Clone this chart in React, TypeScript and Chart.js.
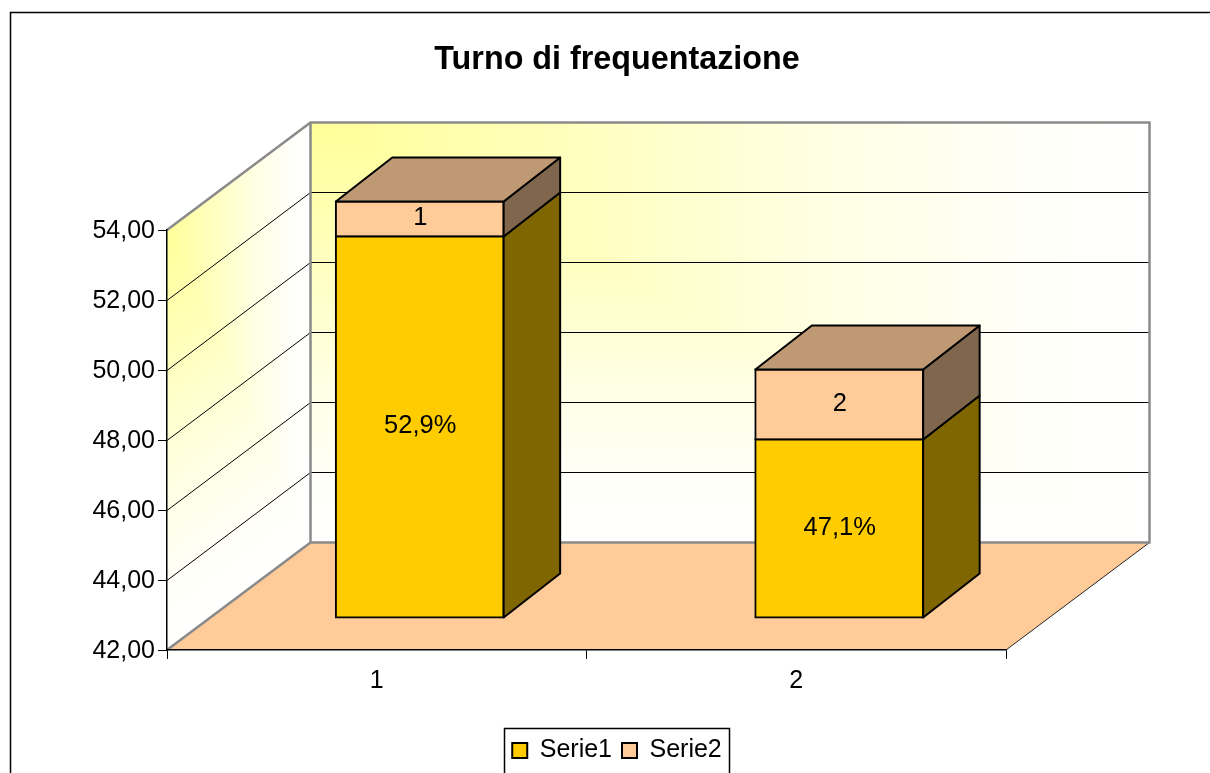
import React, { useEffect, useRef } from "react";
import { Chart, registerables } from "chart.js";

Chart.register(...registerables);

const categories = ["1", "2"];
const serie1 = [52.9, 47.1];
const serie2 = [1, 2];
const serie1Labels = ["52,9%", "47,1%"];
const serie2Labels = ["1", "2"];
const title = "Turno di frequentazione";

const FONT = "'Liberation Sans', Arial, sans-serif";
const YELLOW = "#FFCC00";
const PEACH = "#FFCC99";
const YELLOW_SIDE = "#806600";
const PEACH_SIDE = "#80664D";
const PEACH_TOP = "#BF9973";
const GRAY = "#8A8A8A";
const WALL_STOPS: [number, string][] = [
  [0, "#FFFF99"],
  [0.3, "#FFFFBC"],
  [0.6, "#FFFFE2"],
  [0.85, "#FFFFF8"],
  [1, "#FFFFFF"],
];

const WALL_DX = 143.5;
const WALL_DY = -107.5;
const BAR_DX = 43;
const BAR_DY = -32;
const DEPTH_DX = 56.5;
const DEPTH_DY = -44;

function poly(ctx: CanvasRenderingContext2D, pts: number[][], fill?: any, stroke?: string, lw = 1) {
  ctx.beginPath();
  pts.forEach((p, i) => (i ? ctx.lineTo(p[0], p[1]) : ctx.moveTo(p[0], p[1])));
  ctx.closePath();
  if (fill) {
    ctx.fillStyle = fill;
    ctx.fill();
  }
  if (stroke) {
    ctx.strokeStyle = stroke;
    ctx.lineWidth = lw;
    ctx.lineJoin = "round";
    ctx.stroke();
  }
}

function wallGradient(ctx: CanvasRenderingContext2D, x0: number, y0: number, x1: number, y1: number) {
  const g = ctx.createLinearGradient(x0, y0, x1, y1);
  WALL_STOPS.forEach(([t, c]) => g.addColorStop(t, c));
  return g;
}

function line(ctx: CanvasRenderingContext2D, x1: number, y1: number, x2: number, y2: number, color: string, lw: number) {
  ctx.beginPath();
  ctx.moveTo(x1, y1);
  ctx.lineTo(x2, y2);
  ctx.strokeStyle = color;
  ctx.lineWidth = lw;
  ctx.stroke();
}

const scene3d = {
  id: "scene3d",
  beforeDraw(chart: any) {
    const { ctx, chartArea: a, scales } = chart;
    const { left: L, right: R, top: T, bottom: B } = a;
    const bx = L + WALL_DX;
    const rx = R + WALL_DX;
    const bt = T + WALL_DY;
    const bb = B + WALL_DY;
    ctx.save();
    // outer frame (runs off the right and bottom of the page)
    ctx.strokeStyle = "#000";
    ctx.lineWidth = 1.5;
    ctx.beginPath();
    ctx.moveTo(10.5, chart.height + 2);
    ctx.lineTo(10.5, 12.5);
    ctx.lineTo(chart.width + 2, 12.5);
    ctx.stroke();

    // side wall: corner-path fade from the top-left corner
    const len = Math.hypot(WALL_DX, WALL_DY);
    const nx = -WALL_DY / len;
    const ny = WALL_DX / len;
    const dist = (B - T) * ny;
    poly(ctx, [[L, T], [bx, bt], [bx, bb], [L, B]], wallGradient(ctx, L, T, L + nx * dist, T + ny * dist));
    poly(ctx, [[L, T], [bx, bt], [bx, bb]], wallGradient(ctx, L, 0, bx, 0));

    // back wall: the same fade
    poly(ctx, [[bx, bt], [rx, bt], [rx, bb], [bx, bb]], wallGradient(ctx, 0, bt, 0, bb));
    poly(ctx, [[bx, bt], [rx, bt], [rx, bb]], wallGradient(ctx, bx, 0, rx, 0));

    // floor
    poly(ctx, [[L, B], [bx, bb], [rx, bb], [R, B]], PEACH);

    // grid lines
    const y = scales.y;
    y.ticks.slice(1, -1).forEach((t: any) => {
      const p = y.getPixelForValue(t.value);
      const back = Math.floor(p + WALL_DY) + 0.5;
      ctx.beginPath();
      ctx.moveTo(L, Math.round(p) + 0.5);
      ctx.lineTo(bx, back);
      ctx.lineTo(rx, back);
      ctx.strokeStyle = "#000";
      ctx.lineWidth = 1;
      ctx.stroke();
    });

    // wall edges
    line(ctx, R, B, rx, bb, "#222", 1);
    ctx.beginPath();
    ctx.moveTo(L, T);
    ctx.lineTo(bx, bt);
    ctx.lineTo(rx, bt);
    ctx.lineTo(rx, bb);
    ctx.lineTo(bx, bb);
    ctx.lineTo(L, B);
    ctx.moveTo(bx, bt);
    ctx.lineTo(bx, bb);
    ctx.strokeStyle = GRAY;
    ctx.lineWidth = 2.5;
    ctx.lineJoin = "miter";
    ctx.stroke();

    // legend frame
    const hb = chart.legend.legendHitBoxes;
    if (hb && hb.length) {
      const last = hb[hb.length - 1];
      const x0 = Math.round(hb[0].left - 8.5) + 0.5;
      const x1 = Math.round(last.left + last.width + 7) + 0.5;
      ctx.strokeStyle = "#000";
      ctx.lineWidth = 1.5;
      ctx.strokeRect(x0, chart.legend.top + 0.5, x1 - x0, 80);
    }
    ctx.restore();
  },
  beforeDatasetsDraw(chart: any) {
    chart.ctx.save();
    chart.ctx.translate(BAR_DX, BAR_DY);
  },
  afterDatasetsDraw(chart: any) {
    const ctx = chart.ctx;
    const sideColors = [YELLOW_SIDE, PEACH_SIDE];
    const labels = [serie1Labels, serie2Labels];
    const lastIdx = chart.data.datasets.length - 1;
    chart.data.datasets.forEach((_: any, i: number) => {
      chart.getDatasetMeta(i).data.forEach((el: any, j: number) => {
        const { x, y, base, width } = el.getProps(["x", "y", "base", "width"], true);
        const l = x - width / 2;
        const r = x + width / 2;
        poly(ctx, [[r, y], [r + DEPTH_DX, y + DEPTH_DY], [r + DEPTH_DX, base + DEPTH_DY], [r, base]], sideColors[i], "#000", 2);
        if (i === lastIdx) {
          poly(ctx, [[l, y], [l + DEPTH_DX, y + DEPTH_DY], [r + DEPTH_DX, y + DEPTH_DY], [r, y]], PEACH_TOP, "#000", 2);
        }
        ctx.fillStyle = "#000";
        ctx.font = `25.5px ${FONT}`;
        ctx.textAlign = "center";
        ctx.textBaseline = "middle";
        ctx.fillText(labels[i][j], x + 0.5, (y + base) / 2 - 1);
      });
    });
    ctx.restore();
  },
};

export default function App() {
  const ref = useRef<HTMLCanvasElement>(null);
  useEffect(() => {
    document.body.style.margin = "0";
    document.body.style.overflow = "hidden";
    const chart = new Chart(ref.current!, {
      type: "bar",
      data: {
        labels: categories,
        datasets: [
          { label: "Serie1", data: serie1, base: 42, backgroundColor: YELLOW, borderColor: "#000", borderWidth: 2, borderSkipped: false, inflateAmount: 1, clip: false } as any,
          { label: "Serie2", data: serie2, backgroundColor: PEACH, borderColor: "#000", borderWidth: 2, borderSkipped: false, inflateAmount: 1, clip: false } as any,
        ],
      },
      plugins: [scene3d],
      options: {
        responsive: false,
        animation: false,
        events: [],
        layout: { padding: { left: 24, right: 0, top: 0, bottom: 0 } },
        datasets: { bar: { categoryPercentage: 1, barPercentage: 0.4 } },
        plugins: {
          tooltip: { enabled: false },
          title: {
            display: true,
            text: title,
            color: "#000",
            font: { family: FONT, size: 32.3, weight: "bold", lineHeight: 1.2 },
            padding: { top: 41, bottom: 150.24 },
          },
          legend: {
            display: true,
            position: "bottom",
            labels: {
              color: "#000",
              font: { family: FONT, size: 25 },
              boxWidth: 15,
              boxHeight: 15,
              padding: 10,
            },
          },
        },
        scales: {
          x: {
            stacked: true,
            afterFit: (s: any) => { s.height = 78; },
            grid: { drawOnChartArea: false, drawTicks: true, tickLength: 9, tickColor: "#000", tickWidth: 1 },
            border: { display: true, color: "#000", width: 1.5 },
            ticks: { color: "#000", font: { family: FONT, size: 25 }, padding: 7, maxRotation: 0 },
          },
          y: {
            stacked: true,
            min: 42,
            max: 54,
            afterFit: (s: any) => { s.width = 143; },
            grid: { drawOnChartArea: false, drawTicks: true, tickLength: 9, tickColor: "#000", tickWidth: 1 },
            border: { display: true, color: "#000", width: 1.5 },
            ticks: {
              stepSize: 2,
              color: "#000",
              font: { family: FONT, size: 25 },
              padding: 3,
              labelOffset: 1,
              callback: (v: any) => Number(v).toFixed(2).replace(".", ","),
            },
          },
          spacer: {
            type: "linear",
            position: "right",
            afterFit: (s: any) => { s.width = 204; },
            grid: { display: false },
            border: { display: false },
            ticks: { display: false },
          },
        },
      } as any,
    });
    return () => chart.destroy();
  }, []);
  return <canvas ref={ref} width={1210} height={773} style={{ display: "block" }} />;
}
